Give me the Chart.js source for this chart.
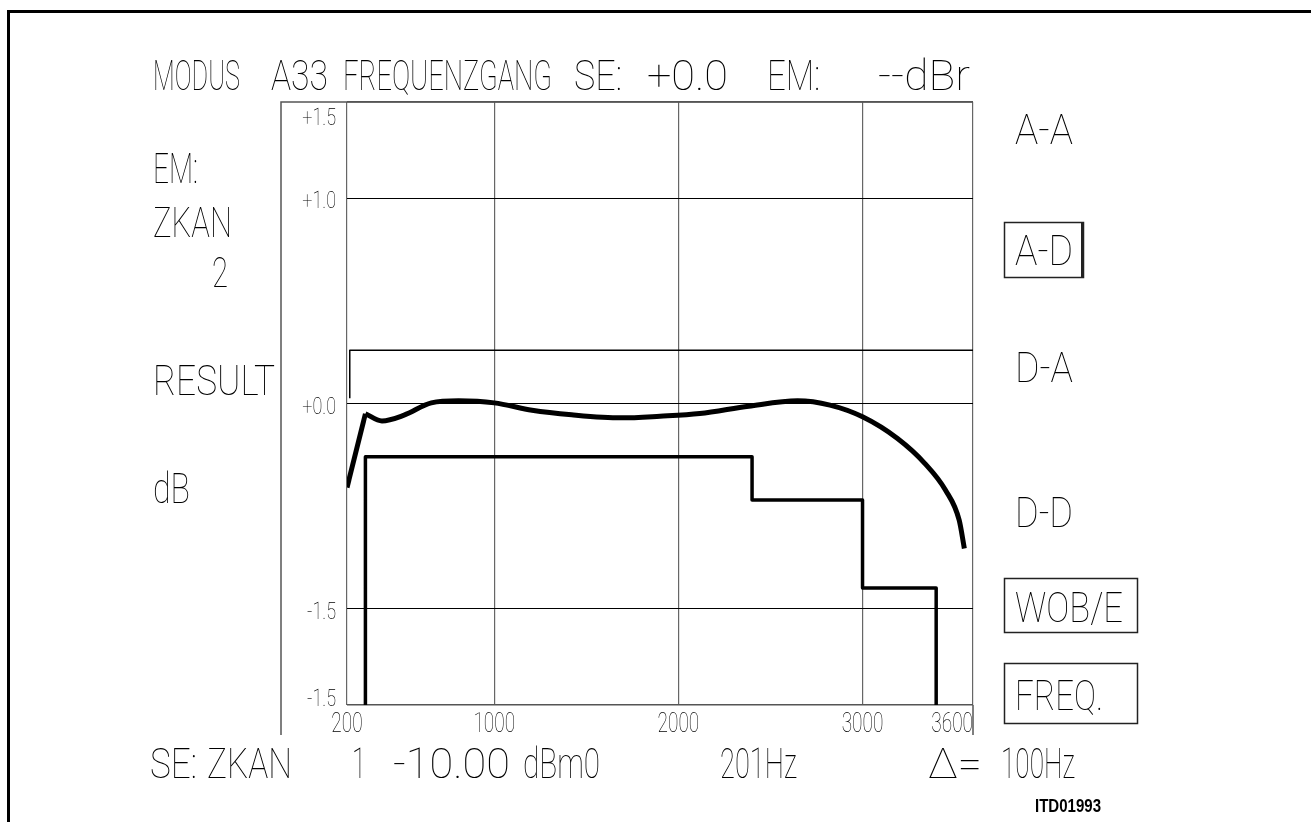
<!DOCTYPE html>
<html>
<head>
<meta charset="utf-8">
<title>MODUS A33 FREQUENZGANG</title>
<script src="https://cdn.jsdelivr.net/npm/chart.js"></script>
<style>
  html, body { margin: 0; padding: 0; background: #fff; }
  canvas { display: block; }
</style>
</head>
<body>
<canvas id="chart" width="1311" height="822"></canvas>
<script>
// measured response (Hz / dB)
const riseFreq = [200, 300];
const riseLevel = [-0.41, -0.05];
const respFreq = [300, 390, 510, 658, 806, 1000, 1205, 1420, 1690, 1900, 2116, 2382, 2647, 2823, 3000, 3190, 3339, 3451, 3525, 3553];
const respLevel = [-0.05, -0.085, -0.057, 0.003, 0.013, 0.003, -0.033, -0.055, -0.07, -0.062, -0.049, -0.013, 0.013, -0.008, -0.065, -0.171, -0.293, -0.423, -0.569, -0.707];

// tolerance masks
const maskLowFreq = [300, 300, 2400, 2400, 3000, 3000, 3400, 3400];
const maskLowLevel = [-1.47, -0.26, -0.26, -0.47, -0.47, -0.9, -0.9, -1.47];
const maskHighFreq = [215, 215, 3600];
const maskHighLevel = [0.026, 0.26, 0.26];

// axes
const xTickValues = [200, 1000, 2000, 3000, 3600];
const xTickLabels = ["200", "1000", "2000", "3000", "3600"];
const yTickValues = [1.47, 1, 0, -1, -1.47];
const yTickLabels = ["+1.5", "+1.0", "+0.0", "-1.5", "-1.5"];

const toPoints = (xs, ys) => xs.map((x, i) => ({ x, y: ys[i] }));

const FONT = '"Roboto", "DejaVu Sans", sans-serif';
const WEIGHT = 100;

// draws text squeezed horizontally to a given width (plotter look)
function drawText(ctx, s, x, base, size, width, weight = WEIGHT, family = FONT) {
    ctx.font = `${weight} ${size}px ${family}`;
    const m = ctx.measureText(s).width;
    ctx.save();
    ctx.translate(x, base);
    ctx.scale(width / m, 1);
    ctx.textAlign = "left";
    ctx.textBaseline = "alphabetic";
    ctx.fillStyle = "#000";
    ctx.fillText(s, 0, 0);
    ctx.restore();
}

function squeezed(ctx, s, size, sx) {
    ctx.font = `${WEIGHT} ${size}px ${FONT}`;
    return ctx.measureText(s).width * sx;
}

const captions = [
    // title row
    ["MODUS", 153, 90, 87], ["A33", 271, 90, 57], ["FREQUENZGANG", 343, 90, 209],
    ["SE:", 574, 90, 48], ["+0.0", 647, 90, 81], ["EM:", 767, 90, 53], ["--dBr", 878, 90, 92],
    // left column
    ["EM:", 153, 183, 45], ["ZKAN", 153, 237, 79], ["2", 212, 287, 16],
    ["RESULT", 153, 395, 122], ["dB", 153, 503, 37],
    // right column
    ["A-A", 1015, 144, 58], ["A-D", 1015, 265, 58], ["D-A", 1015, 382, 58],
    ["D-D", 1015, 527, 58], ["WOB/E", 1015, 622, 108], ["FREQ.", 1015, 710, 88],
    // bottom row
    ["SE:", 150, 778, 47], ["ZKAN", 207, 778, 85], ["1", 352, 778, 14],
    ["-10.00", 393, 778, 117], ["dBm0", 523, 778, 77], ["201Hz", 720, 778, 77],
    ["Δ=", 928, 778, 54], ["100Hz", 1001, 778, 74],
];

const boxes = [
    [1004, 222, 79, 55], [1004, 578, 133, 54], [1004, 663, 133, 60],
];

const plotterFrame = {
    id: "plotterFrame",
    afterDraw(chart) {
        const { ctx, chartArea: a, scales } = chart;
        const outerLeft = a.left - 66;
        const lowEdge = a.bottom + 30;

        ctx.save();
        // sheet border
        ctx.strokeStyle = "#000";
        ctx.lineWidth = 3;
        ctx.beginPath();
        ctx.moveTo(8.5, 822);
        ctx.lineTo(8.5, 11.5);
        ctx.lineTo(1311, 11.5);
        ctx.stroke();

        // plot frame around the tick label band
        ctx.strokeStyle = "#555";
        ctx.lineWidth = 1.5;
        ctx.beginPath();
        ctx.moveTo(outerLeft, lowEdge);
        ctx.lineTo(outerLeft, a.top);
        ctx.lineTo(a.right, a.top);
        ctx.moveTo(a.right, a.bottom);
        ctx.lineTo(a.right, lowEdge);
        ctx.stroke();

        // soft-key boxes
        ctx.strokeStyle = "#222";
        ctx.lineWidth = 1.5;
        boxes.forEach(([x, y, w, h]) => ctx.strokeRect(x + 0.5, y + 0.5, w, h));
        ctx.lineWidth = 3;
        ctx.beginPath();
        ctx.moveTo(1082.5, 222);
        ctx.lineTo(1082.5, 277);
        ctx.stroke();
        ctx.restore();

        // y tick labels, right aligned inside the band
        const ys = scales.y;
        yTickValues.forEach((v, i) => {
            const py = ys.getPixelForValue(v);
            let base = py + 10;
            if (i === 0) base = py + 23;
            if (i === yTickValues.length - 1) base = py + 1;
            const s = yTickLabels[i];
            const w = squeezed(ctx, s, 24, 0.75);
            drawText(ctx, s, a.left - 11 - w, base, 24, w);
        });

        // x tick labels
        const xs = scales.x;
        xTickValues.forEach((v, i) => {
            const px = xs.getPixelForValue(v);
            const s = xTickLabels[i];
            const w = squeezed(ctx, s, 28, 0.68);
            const x0 = i === xTickValues.length - 1 ? px - w : px - w / 2;
            drawText(ctx, s, x0, a.bottom + 27, 28, w);
        });

        captions.forEach(([s, x, base, w]) => drawText(ctx, s, x, base, 42, w));
        drawText(ctx, "ITD01993", 1035, 812, 18, 66, 700, '"Liberation Sans", Arial, sans-serif');
    },
};

new Chart(document.getElementById("chart"), {
    type: "line",
    data: {
        datasets: [
            {
                data: toPoints(maskHighFreq, maskHighLevel),
                borderColor: "#000",
                borderWidth: 1.5,
                tension: 0,
            },
            {
                data: toPoints(maskLowFreq, maskLowLevel),
                borderColor: "#000",
                borderWidth: 3.5,
                tension: 0,
            },
            {
                data: toPoints(riseFreq, riseLevel),
                borderColor: "#000",
                borderWidth: 5,
                tension: 0,
            },
            {
                data: toPoints(respFreq, respLevel),
                borderColor: "#000",
                borderWidth: 5,
                cubicInterpolationMode: "monotone",
            },
        ],
    },
    options: {
        responsive: false,
        animation: false,
        events: [],
        layout: { padding: { left: 347, right: 338, top: 102, bottom: 117 } },
        elements: {
            point: { radius: 0 },
            line: { fill: false, borderJoinStyle: "round" },
        },
        plugins: {
            legend: { display: false },
            tooltip: { enabled: false },
        },
        scales: {
            x: {
                type: "linear",
                min: 200,
                max: 3600,
                afterBuildTicks: (scale) => {
                    scale.ticks = xTickValues.map((value) => ({ value }));
                },
                ticks: { display: false },
                border: { display: false },
                grid: { color: "#666", lineWidth: 1.2, drawTicks: false },
            },
            y: {
                type: "linear",
                min: -1.47,
                max: 1.47,
                afterBuildTicks: (scale) => {
                    scale.ticks = yTickValues.map((value) => ({ value }));
                },
                ticks: { display: false },
                border: { display: false },
                grid: {
                    drawTicks: false,
                    color: (c) => (Math.abs(c.tick.value) > 1.2 ? "#555" : "#000"),
                    lineWidth: (c) => (Math.abs(c.tick.value) > 1.2 ? 1.5 : 1),
                },
            },
        },
    },
    plugins: [plotterFrame],
});
</script>
</body>
</html>
